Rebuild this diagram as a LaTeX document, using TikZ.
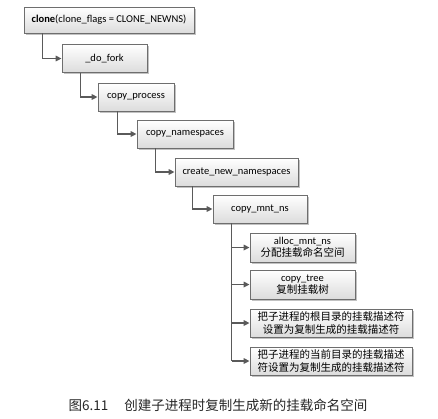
\documentclass[tikz,border=0pt]{standalone}
\usepackage{fontspec}
\setmainfont{Carlito}
\newfontfamily\cjk{Noto Sans CJK SC}
\usetikzlibrary{arrows.meta,shadows}
\definecolor{boxline}{HTML}{6E6E6E}
\definecolor{boxbot}{HTML}{DCDCDC}
\definecolor{connc}{HTML}{5A5A5A}
\tikzset{
  fnbox/.style={draw=boxline, line width=0.8pt, top color=white, bottom color=boxbot,
    minimum height=28pt, inner sep=1pt, align=center, font=\fontsize{10.5}{11.5}\selectfont,
    drop shadow={shadow xshift=1.6pt, shadow yshift=-1.6pt, fill=black!40, opacity=0.6}},
  cnbox/.style={fnbox, font=\fontsize{10.5}{12}\selectfont},
  zhbox/.style={fnbox, font=\cjk\fontsize{10.5}{12.5}\selectfont},
  conn/.style={draw=connc, line width=1.6pt, -{Triangle[length=6pt,width=5.5pt]}}
}
\begin{document}
\begin{tikzpicture}[x=1pt,y=-1pt]
\useasboundingbox (0,0) rectangle (438,418);
\node[fnbox, minimum width=170pt, minimum height=26pt] (clone) at (109,20) {\textbf{clone}(clone\_flags = CLONE\_NEWNS)};
\node[fnbox, minimum width=85pt] (dofork) at (104.5,58.5) {\_do\_fork};
\node[fnbox, minimum width=76pt] (cproc) at (136,97) {copy\_process};
\node[fnbox, minimum width=96pt] (cns) at (185,134) {copy\_namespaces};
\node[fnbox, minimum width=123pt] (cnew) at (236.5,172) {create\_new\_namespaces};
\node[fnbox, minimum width=94pt] (cmnt) at (260,209) {copy\_mnt\_ns};
\node[cnbox, minimum width=105pt, minimum height=29pt] (alloc) at (302.5,247.5) {alloc\_mnt\_ns\\{\cjk\fontsize{10.5}{12}\selectfont 分配挂载命名空间}};
\node[cnbox, minimum width=105pt, minimum height=29pt] (ctree) at (302.5,284.5) {copy\_tree\\{\cjk\fontsize{10.5}{12}\selectfont 复制挂载树}};
\node[zhbox, minimum width=162pt] (root) at (331,323) {把子进程的根目录的挂载描述符\\设置为复制生成的挂载描述符};
\node[zhbox, minimum width=162pt] (pwd) at (331,361) {把子进程的当前目录的挂载描述\\符设置为复制生成的挂载描述符};
\draw[conn] ([xshift=19pt]clone.south west) |- (dofork.west);
\draw[conn] ([xshift=19pt]dofork.south west) |- (cproc.west);
\draw[conn] ([xshift=20pt]cproc.south west) |- (cns.west);
\draw[conn] ([xshift=19pt]cns.south west) |- (cnew.west);
\draw[conn] ([xshift=18pt]cnew.south west) |- (cmnt.west);
\coordinate (trunk) at ([xshift=19pt]cmnt.south west);
\draw[draw=connc, line width=1.6pt] (trunk) -- (trunk |- pwd.west);
\draw[conn] (trunk |- alloc.west) -- (alloc.west);
\draw[conn] (trunk |- ctree.west) -- (ctree.west);
\draw[conn] (trunk |- root.west) -- (root.west);
\draw[conn] (trunk |- pwd.west) -- (pwd.west);
\node[font=\cjk\fontsize{13.5}{15}\selectfont, text=black!85] (cap) at (218,405) {图6.11\hspace{1.2em}创建子进程时复制生成新的挂载命名空间};
\end{tikzpicture}
\end{document}
